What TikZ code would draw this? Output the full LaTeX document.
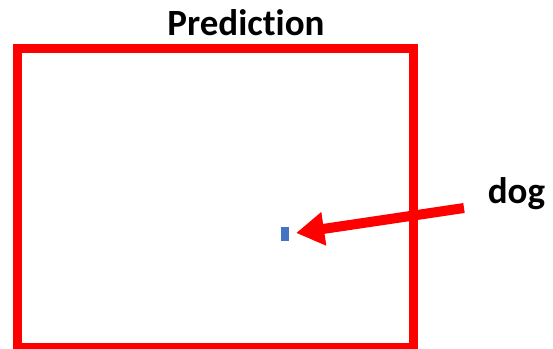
\documentclass[tikz,border=0pt]{standalone}
\usepackage{fontspec}
\setmainfont{Carlito}[Ligatures=NoCommon]
\usetikzlibrary{arrows.meta}
\definecolor{boxred}{HTML}{FF0000}
\definecolor{objblue}{HTML}{4472C4}
\tikzset{
  predbox/.style={draw=boxred, line width=9pt, minimum width=396pt, minimum height=298.8pt, inner sep=0pt},
  labeltext/.style={font=\fontsize{37}{41}\selectfont\bfseries, text=black, inner sep=0pt, anchor=base},
  objmark/.style={fill=objblue, draw=none, minimum width=8pt, minimum height=14pt, inner sep=0pt},
  pointer/.style={draw=boxred, line width=10pt, -{Triangle[length=28pt,width=32pt]}}
}
\begin{document}
\begin{tikzpicture}[x=1pt,y=-1pt]
  \useasboundingbox (0,0) rectangle (553,348);
  \fill[white] (0,0) rectangle (553,348);
  \node[predbox] (pred) at (215.5,198.1) {};
  \node[labeltext] (title) at (246,35) {Prediction};
  \node[labeltext] (dog) at (516.5,203) {dog};
  \node[objmark] (obj) at (285,234) {};
  \coordinate (tail) at (464,208);
  \draw[pointer, shorten >=7pt] (tail) -- (obj.east);
\end{tikzpicture}
\end{document}
